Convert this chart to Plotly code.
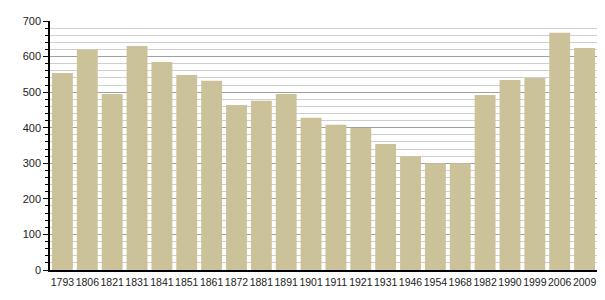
import plotly.graph_objects as go

years = ["1793", "1806", "1821", "1831", "1841", "1851", "1861", "1872", "1881", "1891",
         "1901", "1911", "1921", "1931", "1946", "1954", "1968", "1982", "1990", "1999",
         "2006", "2009"]
population = [554, 620, 495, 630, 585, 548, 532, 464, 476, 495,
              428, 408, 399, 354, 320, 300, 300, 492, 534, 540,
              667, 624]

fig = go.Figure(go.Bar(
    x=years, y=population,
    marker=dict(color="#ccc29a", line=dict(width=0)),
))

fig.update_layout(
    width=605, height=300,
    margin=dict(l=50, r=8, t=21, b=30),
    paper_bgcolor="white", plot_bgcolor="white",
    bargap=0.16,
    showlegend=False,
    font=dict(family="Liberation Sans, Arial, sans-serif", size=11, color="#222"),
)
fig.update_xaxes(
    type="category",
    showline=True, linecolor="black", linewidth=1.5,
    ticks="", showgrid=False,
    tickangle=0, automargin=False,
    ticklabelstandoff=2,
    tickfont=dict(size=10.5),
)
fig.update_yaxes(
    range=[0, 700], dtick=100,
    showline=True, linecolor="black", linewidth=1.5,
    ticks="outside", ticklen=5, tickcolor="black",
    showgrid=True, gridcolor="#a0a0a0", gridwidth=1,
    zeroline=False, automargin=False,
    minor=dict(dtick=20, showgrid=True, gridcolor="#cfcfcf", gridwidth=1,
               ticks="outside", ticklen=3, tickcolor="black"),
    tickfont=dict(size=11),
)

fig.write_html("out.html")
